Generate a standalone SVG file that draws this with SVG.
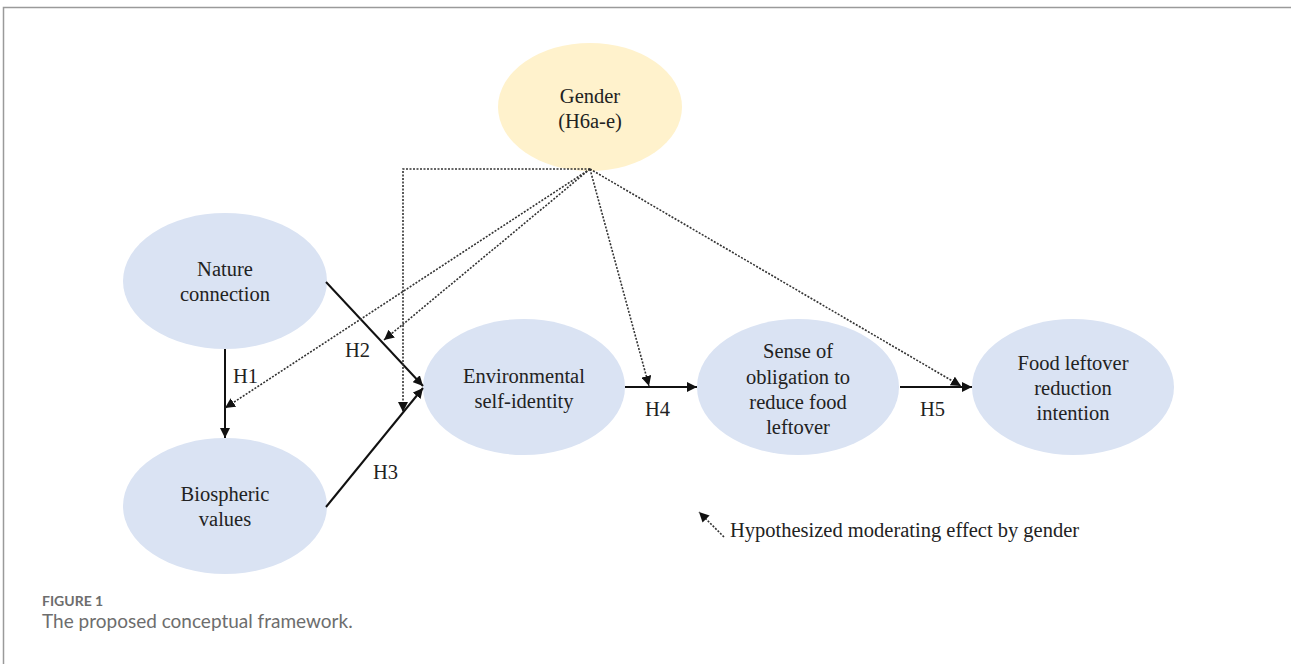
<svg xmlns="http://www.w3.org/2000/svg" width="1291" height="664" viewBox="0 0 1291 664">
<style>
.node{fill:#dae3f3}
.gender{fill:#fff2cc}
.t{font-family:"Liberation Serif",serif;font-size:20.5px;fill:#222;text-anchor:middle}
.lab{font-family:"Liberation Serif",serif;font-size:20.5px;fill:#222}
.solid{fill:none;stroke:#111;stroke-width:2}
.dot{fill:none;stroke:#333;stroke-width:1.6;stroke-dasharray:2 1.5}
.cap1{font-family:Lato,"Open Sans",sans-serif;font-size:14px;font-weight:bold;fill:#6d6d6d}
.cap2{font-family:Lato,"Open Sans",sans-serif;font-size:19px;fill:#6d6d6d}
</style>
<defs>
<marker id="ahs" viewBox="0 0 10 10" refX="10" refY="5" markerWidth="10" markerHeight="10" orient="auto" markerUnits="userSpaceOnUse">
<path d="M0,0 L10,5 L0,10 z" fill="#111"/>
</marker>
</defs>
<rect width="1291" height="664" fill="#fff"/>
<path d="M3.5,664 V7.5 H1291" fill="none" stroke="#9a9a9a" stroke-width="1.5"/>

<g id="gender">
<ellipse class="gender" cx="590" cy="107" rx="92" ry="64"/>
<text class="t" x="590" y="103">Gender</text>
<text class="t" x="590" y="128">(H6a-e)</text>
</g>
<g id="nature">
<ellipse class="node" cx="225" cy="281" rx="102" ry="68"/>
<text class="t" x="225" y="276">Nature</text>
<text class="t" x="225" y="301">connection</text>
</g>
<g id="biospheric">
<ellipse class="node" cx="225" cy="506" rx="102" ry="68"/>
<text class="t" x="225" y="501">Biospheric</text>
<text class="t" x="225" y="526">values</text>
</g>
<g id="env">
<ellipse class="node" cx="524" cy="387" rx="101" ry="68"/>
<text class="t" x="524" y="383">Environmental</text>
<text class="t" x="524" y="408">self-identity</text>
</g>
<g id="sense">
<ellipse class="node" cx="798" cy="387" rx="101" ry="68"/>
<text class="t" x="798" y="358">Sense of</text>
<text class="t" x="798" y="384">obligation to</text>
<text class="t" x="798" y="409">reduce food</text>
<text class="t" x="798" y="434">leftover</text>
</g>
<g id="food">
<ellipse class="node" cx="1073" cy="387" rx="101" ry="68"/>
<text class="t" x="1073" y="370">Food leftover</text>
<text class="t" x="1073" y="395">reduction</text>
<text class="t" x="1073" y="420">intention</text>
</g>

<g id="connectors">
<line class="solid" x1="225" y1="349" x2="225" y2="438" marker-end="url(#ahs)"/>
<line class="solid" x1="326" y1="282" x2="423" y2="386" marker-end="url(#ahs)"/>
<line class="solid" x1="326" y1="507" x2="423" y2="388" marker-end="url(#ahs)"/>
<line class="solid" x1="625" y1="387" x2="697" y2="387" marker-end="url(#ahs)"/>
<line class="solid" x1="900" y1="387" x2="972" y2="387" marker-end="url(#ahs)"/>

<polyline class="dot" points="590,169 403,169 403,412" marker-end="url(#ahs)"/>
<line class="dot" x1="590" y1="169" x2="225" y2="408" marker-end="url(#ahs)"/>
<line class="dot" x1="590" y1="169" x2="384" y2="340" marker-end="url(#ahs)"/>
<line class="dot" x1="590" y1="169" x2="649" y2="386" marker-end="url(#ahs)"/>
<line class="dot" x1="590" y1="169" x2="961" y2="386" marker-end="url(#ahs)"/>

<text class="lab" x="233" y="383">H1</text>
<text class="lab" x="345" y="357">H2</text>
<text class="lab" x="373" y="479">H3</text>
<text class="lab" x="645" y="416">H4</text>
<text class="lab" x="920" y="416">H5</text>
</g>

<g id="legend">
<line class="dot" x1="724" y1="537" x2="699" y2="512" marker-end="url(#ahs)"/>
<text class="lab" x="730" y="537">Hypothesized moderating effect by gender</text>
</g>

<g id="caption">
<text class="cap1" x="42" y="606">FIGURE 1</text>
<text class="cap2" x="42" y="628">The proposed conceptual framework.</text>
</g>
</svg>
